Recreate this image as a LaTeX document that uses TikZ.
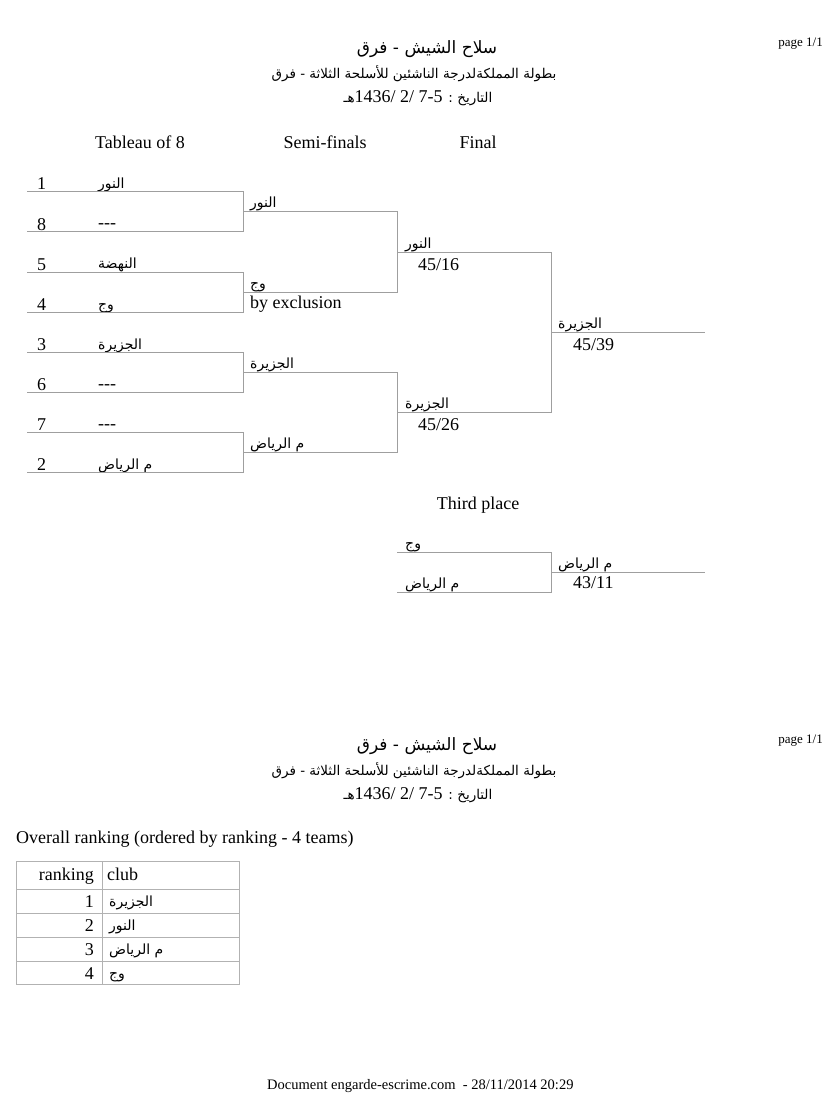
\documentclass[tikz,border=0pt]{standalone}
\usepackage{fontspec}
\setmainfont{Liberation Serif}
\newfontfamily\arabicfont[Script=Arabic]{DejaVu Sans}
\TeXXeTstate=1
\newcommand{\artext}[1]{{\arabicfont\beginR #1\endR}}
\newcommand{\nobody}{{\rmfamily\fontsize{18}{21}\selectfont -{}-{}-}}
\usetikzlibrary{positioning, calc}
\tikzset{
  bracketline/.style={draw=gray!75, line width=1pt},
  tablerule/.style={draw=gray!60, line width=1pt},
  roundlabel/.style={
    font=\fontsize{18}{21}\selectfont, anchor=base, inner sep=0pt
  },
  seedlabel/.style={
    font=\fontsize{18}{21}\selectfont, anchor=base west, inner sep=0pt
  },
  cellnum/.style={
    font=\fontsize{18}{21}\selectfont, anchor=base east, inner sep=0pt
  },
  teamlabel/.style={
    font=\arabicfont\fontsize{14}{16}\selectfont, anchor=base west,
    inner sep=0pt
  },
  titlelabel/.style={
    font=\arabicfont\fontsize{17}{20}\selectfont, anchor=base, inner sep=0pt
  },
  headlabel/.style={
    font=\arabicfont\fontsize{13.5}{16}\selectfont, anchor=base, inner sep=0pt
  },
  pagelabel/.style={
    font=\fontsize{13}{15}\selectfont, anchor=base east, inner sep=0pt
  },
  footlabel/.style={
    font=\fontsize{14.5}{17}\selectfont, anchor=base west, inner sep=0pt
  },
}

\begin{document}
\begin{tikzpicture}[x=1pt, y=-1pt]
  \useasboundingbox (0,0) rectangle (827,1099);

  % Page headers
  \foreach \part/\dy in {a/0, b/696} {
    \node[pagelabel] (page-\part) at (823,47+\dy) {page 1/1};
    \node[titlelabel] (title-\part) at (427,54+\dy)
      {\artext{سلاح الشيش - فرق}};
    \node[headlabel] (subtitle-\part) at (414,79+\dy)
      {\artext{بطولة المملكةلدرجة الناشئين للأسلحة الثلاثة - فرق}};
    \node[headlabel] (date-\part) at (418,103+\dy)
      {\artext{التاريخ : \beginL{\rmfamily\fontsize{18}{20}\selectfont 1436/ 2/ 7-5}\endL{}هـ}};
  }

  % Round titles
  \node[roundlabel] (head-tableau) at (140,149) {Tableau of 8};
  \node[roundlabel] (head-semi) at (325,149) {Semi-finals};
  \node[roundlabel] (head-final) at (478,149) {Final};

  % Tableau of 8
  \foreach \seed/\team [count=\i] in {
      1/{\artext{النور}}, 8/{\nobody}, 5/{\artext{النهضة}}, 4/{\artext{وج}},
      3/{\artext{الجزيرة}}, 6/{\nobody}, 7/{\nobody}, 2/{\artext{م الرياض}}} {
    \pgfmathsetmacro{\ry}{152+40*\i}
    \coordinate (r1-\i-w) at (27,\ry);
    \coordinate (r1-\i-e) at (243,\ry);
    \node[seedlabel] (seed-\i) at (37,\ry-2) {\seed};
    \node[teamlabel] (team-\i) at (98,\ry-3) {\team};
  }
  \draw[bracketline] (r1-1-w) -- (r1-1-e) -- (r1-2-e) -- (r1-2-w);
  \draw[bracketline] (r1-3-w) -- (r1-3-e) -- (r1-4-e) -- (r1-4-w);
  \draw[bracketline] (r1-5-w) -- (r1-5-e) -- (r1-6-e) -- (r1-6-w);
  \draw[bracketline] (r1-7-w) -- (r1-7-e) -- (r1-8-e) -- (r1-8-w);

  % Semi-finals
  \coordinate (sf-1-w) at (243,212);
  \coordinate (sf-1-e) at (397,212);
  \coordinate (sf-2-w) at (243,292);
  \coordinate (sf-2-e) at (397,292);
  \coordinate (sf-3-w) at (243,372);
  \coordinate (sf-3-e) at (397,372);
  \coordinate (sf-4-w) at (243,452);
  \coordinate (sf-4-e) at (397,452);
  \draw[bracketline] (sf-1-w) -- (sf-1-e) -- (sf-2-e) -- (sf-2-w);
  \draw[bracketline] (sf-3-w) -- (sf-3-e) -- (sf-4-e) -- (sf-4-w);
  \node[teamlabel] (sf-1-team) at (250,208) {\artext{النور}};
  \node[teamlabel] (sf-2-team) at (250,288) {\artext{وج}};
  \node[seedlabel] (sf-2-score) at (250,308) {by exclusion};
  \node[teamlabel] (sf-3-team) at (250,368) {\artext{الجزيرة}};
  \node[teamlabel] (sf-4-team) at (250,448) {\artext{م الرياض}};

  % Final
  \coordinate (fn-1-w) at (397,252);
  \coordinate (fn-1-e) at (551,252);
  \coordinate (fn-2-w) at (397,412);
  \coordinate (fn-2-e) at (551,412);
  \coordinate (win-w) at (551,332);
  \coordinate (win-e) at (705,332);
  \draw[bracketline] (fn-1-w) -- (fn-1-e) -- (fn-2-e) -- (fn-2-w);
  \draw[bracketline] (win-w) -- (win-e);
  \node[teamlabel] (fn-1-team) at (405,248) {\artext{النور}};
  \node[seedlabel] (fn-1-score) at (418,270) {45/16};
  \node[teamlabel] (fn-2-team) at (405,408) {\artext{الجزيرة}};
  \node[seedlabel] (fn-2-score) at (418,430) {45/26};
  \node[teamlabel] (win-team) at (558,328) {\artext{الجزيرة}};
  \node[seedlabel] (win-score) at (573,350) {45/39};

  % Third place
  \node[roundlabel] (head-third) at (478,509) {Third place};
  \coordinate (tp-1-w) at (397,552);
  \coordinate (tp-1-e) at (551,552);
  \coordinate (tp-2-w) at (397,592);
  \coordinate (tp-2-e) at (551,592);
  \coordinate (tpwin-w) at (551,572);
  \coordinate (tpwin-e) at (705,572);
  \draw[bracketline] (tp-1-w) -- (tp-1-e) -- (tp-2-e) -- (tp-2-w);
  \draw[bracketline] (tpwin-w) -- (tpwin-e);
  \node[teamlabel] (tp-1-team) at (405,548) {\artext{وج}};
  \node[teamlabel] (tp-2-team) at (405,588) {\artext{م الرياض}};
  \node[teamlabel] (tpwin-team) at (558,568) {\artext{م الرياض}};
  \node[seedlabel] (tpwin-score) at (573,588) {43/11};

  % Overall ranking
  \node[seedlabel] (ranking-title) at (16,843)
    {Overall ranking (ordered by ranking - 4 teams)};
  \coordinate (tab-nw) at (16,861);
  \coordinate (tab-se) at (239,984);
  \draw[tablerule] (tab-nw) rectangle (tab-se);
  \foreach \ry in {889,913,937,961}
    \draw[tablerule] (tab-nw |- 0,\ry) -- (tab-se |- 0,\ry);
  \draw[tablerule] (102,861) -- (102,984);
  \node[cellnum] (rank-head) at (94,880) {ranking};
  \node[seedlabel] (club-head) at (107,880) {club};
  \foreach \rank/\club [count=\i] in {1/الجزيرة, 2/النور, 3/م الرياض, 4/وج} {
    \node[cellnum] (rank-\i) at (94,883+24*\i) {\rank};
    \node[teamlabel] (club-\i) at (109,882+24*\i) {\artext{\club}};
  }

  % Footer
  \node[footlabel] (footer) at (267,1089)
    {Document engarde-escrime.com\ \ - 28/11/2014 20:29};
\end{tikzpicture}
\end{document}
